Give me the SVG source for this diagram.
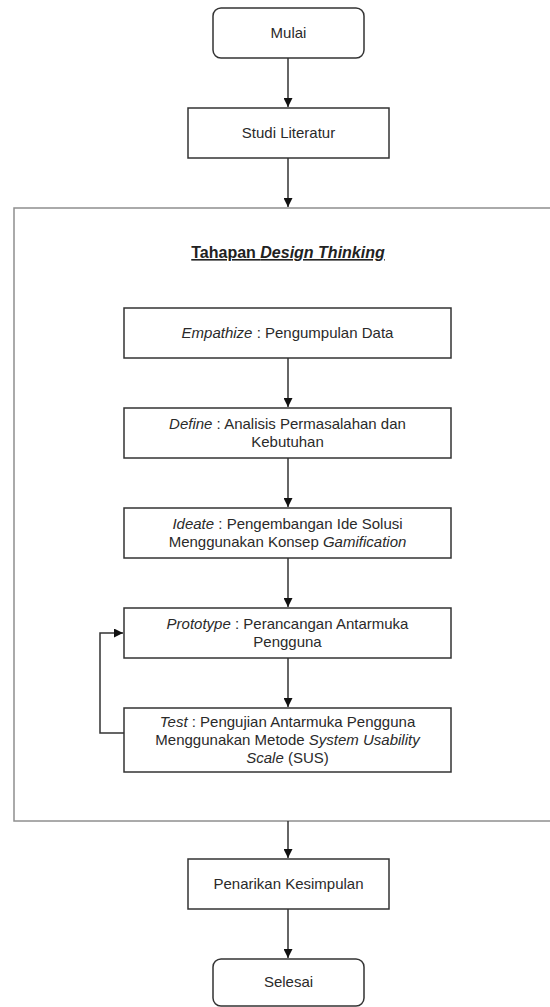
<svg xmlns="http://www.w3.org/2000/svg" width="550" height="1007" viewBox="0 0 550 1007">
<style>
  .box { fill: #ffffff; stroke: #333333; stroke-width: 1.5; }
  .frame { fill: #ffffff; stroke: #8f8f8f; stroke-width: 1.5; }
  .lbl { font-family: "Liberation Sans", Arial, sans-serif; font-size: 15px; fill: #2a2a2a; text-anchor: middle; }
  .title { font-family: "Liberation Sans", Arial, sans-serif; font-size: 16px; font-weight: bold; fill: #222222; text-anchor: middle; text-decoration: underline; }
  .it { font-style: italic; }
  .edge { fill: none; stroke: #333333; stroke-width: 1.5; }
</style>
<defs>
  <marker id="arrow" viewBox="0 0 10 10" refX="10" refY="5" markerWidth="9" markerHeight="9" markerUnits="userSpaceOnUse" orient="auto">
    <path d="M0,0 L10,5 L0,10 Z" fill="#111111"/>
  </marker>
</defs>
<rect width="550" height="1007" fill="#ffffff"/>

<g id="frame-design-thinking">
  <rect class="frame" x="14" y="208" width="560" height="613"/>
  <text class="title" x="288" y="258">Tahapan <tspan class="it">Design Thinking</tspan></text>
</g>

<g id="connectors">
  <path class="edge" d="M288,58 V107" marker-end="url(#arrow)"/>
  <path class="edge" d="M288,158 V207" marker-end="url(#arrow)"/>
  <path class="edge" d="M288,358 V407" marker-end="url(#arrow)"/>
  <path class="edge" d="M288,458 V507" marker-end="url(#arrow)"/>
  <path class="edge" d="M288,558 V607" marker-end="url(#arrow)"/>
  <path class="edge" d="M288,658 V707" marker-end="url(#arrow)"/>
  <path class="edge" d="M288,821 V858" marker-end="url(#arrow)"/>
  <path class="edge" d="M288,909 V958" marker-end="url(#arrow)"/>
  <path class="edge" d="M124,733 H100 V633 H123" marker-end="url(#arrow)"/>
</g>

<g id="mulai">
  <rect class="box" x="213" y="8" width="151" height="50" rx="8" ry="8"/>
  <text class="lbl" x="288.5" y="38">Mulai</text>
</g>

<g id="studi-literatur">
  <rect class="box" x="188" y="108" width="201" height="50"/>
  <text class="lbl" x="288.5" y="138">Studi Literatur</text>
</g>

<g id="empathize">
  <rect class="box" x="124" y="308" width="327" height="50"/>
  <text class="lbl" x="287.5" y="338"><tspan class="it">Empathize</tspan> : Pengumpulan Data</text>
</g>

<g id="define">
  <rect class="box" x="124" y="408" width="327" height="50"/>
  <text class="lbl" x="287.5" y="429"><tspan class="it">Define</tspan> : Analisis Permasalahan dan</text>
  <text class="lbl" x="287.5" y="447">Kebutuhan</text>
</g>

<g id="ideate">
  <rect class="box" x="124" y="508" width="327" height="50"/>
  <text class="lbl" x="287.5" y="529"><tspan class="it">Ideate</tspan> : Pengembangan Ide Solusi</text>
  <text class="lbl" x="287.5" y="547">Menggunakan Konsep <tspan class="it">Gamification</tspan></text>
</g>

<g id="prototype">
  <rect class="box" x="124" y="608" width="327" height="50"/>
  <text class="lbl" x="287.5" y="629"><tspan class="it">Prototype</tspan> : Perancangan Antarmuka</text>
  <text class="lbl" x="287.5" y="647">Pengguna</text>
</g>

<g id="test">
  <rect class="box" x="124" y="708" width="327" height="64"/>
  <text class="lbl" x="287.5" y="727"><tspan class="it">Test</tspan> : Pengujian Antarmuka Pengguna</text>
  <text class="lbl" x="287.5" y="745">Menggunakan Metode <tspan class="it">System Usability</tspan></text>
  <text class="lbl" x="287.5" y="763"><tspan class="it">Scale</tspan> (SUS)</text>
</g>

<g id="penarikan-kesimpulan">
  <rect class="box" x="188" y="859" width="201" height="50"/>
  <text class="lbl" x="288.5" y="889">Penarikan Kesimpulan</text>
</g>

<g id="selesai">
  <rect class="box" x="213" y="959" width="151" height="47" rx="8" ry="8"/>
  <text class="lbl" x="288.5" y="987">Selesai</text>
</g>
</svg>
